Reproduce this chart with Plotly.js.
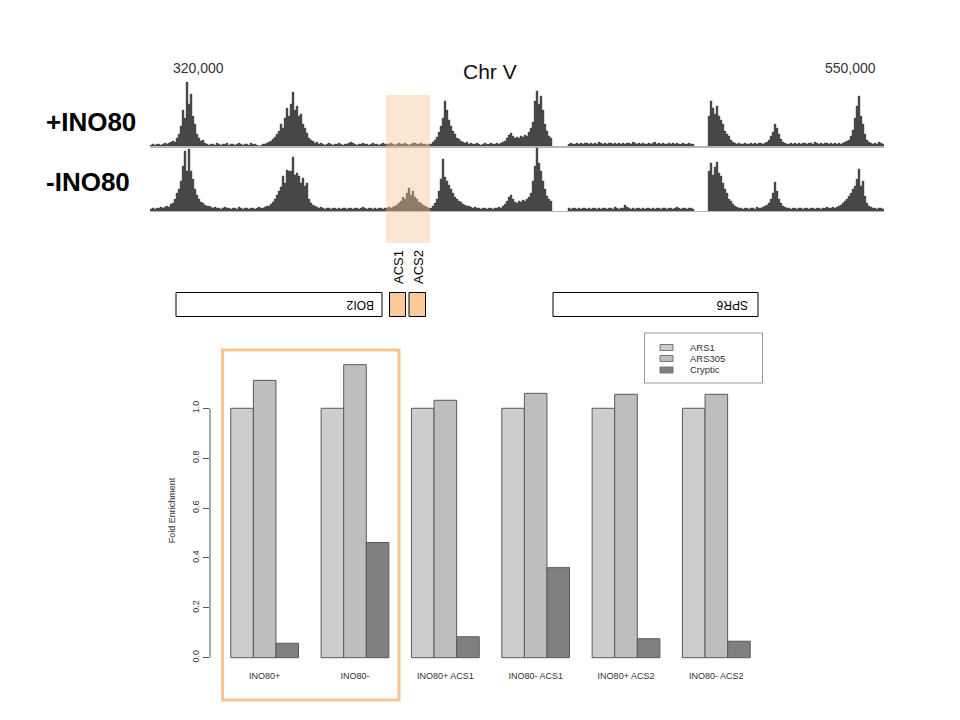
<!DOCTYPE html>
<html><head><meta charset="utf-8">
<script src="https://cdn.plot.ly/plotly-3.0.1.min.js"></script>
<style>html,body{margin:0;padding:0;background:#fff}#chart{width:960px;height:720px}</style>
</head><body><div id="chart"></div>
<script>
// ---- Genome track data (ChIP signal, arbitrary units, one value per 705 bp bin; null = no data) ----
const TRACK_START = 303000;   // bp, left edge of first bin
const BIN_SIZE = 705;         // bp per bin
const plusINO80 = [
  1,2,1,2,2,1,2,3,2,3,
  4,5,4,8,12,20,36,28,64,42,
  52,30,22,12,8,5,6,3,2,1,
  2,2,1,3,2,1,2,2,3,1,
  2,2,1,2,3,2,1,2,2,1,
  3,2,2,1,0,0.5,2,2,3,4,
  5,7,9,12,15,22,18,28,38,30,
  42,54,36,40,30,32,22,18,13,8,
  6,5,3,4,2,3,2,1,2,3,
  2,1,2,2,3,2,1,2,2,3,
  4,3,2,1,2,2,3,2,2,1,
  2,3,2,2,1,2,3,2,2,2,
  3,2,1,2,3,2,2,3,2,1,
  2,3,3,2,2,3,2,2,1,2,
  2,4,6,9,14,20,28,45,36,26,
  20,15,12,8,7,5,4,3,4,2,
  3,2,2,3,2,1,2,3,2,2,
  3,2,2,3,2,3,4,5,8,11,
  13,10,8,9,8,10,9,11,10,14,
  18,24,45,55,42,50,36,22,15,10,
  8,null,null,null,null,null,null,null,null,2,
  3,2,2,3,2,3,2,3,3,2,
  3,2,3,2,4,3,2,3,2,3,
  3,2,3,2,3,2,3,2,3,3,
  2,4,3,2,3,2,3,2,2,3,
  2,3,4,2,3,2,3,2,2,3,
  2,3,2,3,2,2,3,2,2,3,
  2,2,null,null,null,null,null,null,null,30,
  45,38,32,40,30,26,22,15,12,10,
  6,4,3,2,3,2,2,3,2,2,
  3,2,3,2,3,3,2,3,4,6,
  10,14,22,18,12,7,4,3,2,2,
  3,2,3,2,3,2,3,3,2,3,
  3,2,4,3,2,3,2,3,3,2,
  3,2,3,2,3,2,3,4,5,6,
  10,16,28,40,50,30,22,12,6,4,
  3,2,3,2,4,3,2
];
const minusINO80 = [
  2,3,2,3,3,4,3,4,5,4,
  7,8,12,18,22,30,45,60,40,62,
  40,32,22,16,12,9,8,6,5,5,
  4,3,4,3,3,2,3,4,3,3,
  2,3,3,2,4,3,2,3,3,2,
  3,3,2,3,4,3,3,4,5,5,
  7,9,12,16,20,24,35,28,41,40,
  40,54,36,38,35,28,33,25,28,12,
  8,6,5,4,3,4,3,2,3,3,
  2,3,3,2,3,2,3,3,2,3,
  3,2,3,3,2,3,4,3,2,3,
  3,2,3,2,3,3,2,3,3,4,
  3,4,5,6,8,10,14,12,18,23,
  16,20,14,12,9,8,6,5,4,3,
  3,5,8,12,20,32,52,34,30,26,
  22,18,14,12,10,9,7,6,5,5,
  4,3,4,3,3,2,3,3,2,3,
  3,2,3,3,4,3,5,7,10,14,
  16,12,9,8,10,9,11,10,12,14,
  18,30,45,63,48,40,30,22,15,12,
  10,null,null,null,null,null,null,null,null,3,
  2,3,3,2,3,2,3,3,2,3,
  2,3,3,2,3,2,3,3,2,3,
  3,2,4,3,2,3,3,6,4,3,
  2,3,2,3,3,2,3,2,3,3,
  2,3,2,3,3,2,3,3,2,3,
  3,2,3,4,3,2,3,3,2,3,
  3,2,null,null,null,null,null,null,null,40,
  48,36,44,49,38,35,28,22,18,12,
  10,7,5,4,3,3,2,3,3,2,
  3,3,2,4,3,3,4,5,6,8,
  12,18,29,20,12,8,5,4,3,3,
  2,3,3,2,3,3,2,3,3,2,
  3,3,2,3,3,2,3,3,4,3,
  3,4,3,4,5,6,8,10,12,15,
  18,22,25,32,42,25,30,15,8,5,
  4,3,3,2,3,3,2
];
const coordLabels = [320000, 550000];
const coordText = ['320,000', '550,000'];
const trackNames = ['+INO80', '-INO80'];
const geneNames = ['BOI2', 'SPR6'];
const acsNames = ['ACS1', 'ACS2'];

// ---- Bar chart data ----
const groups = ['INO80+', 'INO80-', 'INO80+ ACS1', 'INO80- ACS1', 'INO80+ ACS2', 'INO80- ACS2'];
const seriesNames = ['ARS1', 'ARS305', 'Cryptic'];
const ars1 = [1.0, 1.0, 1.0, 1.0, 1.0, 1.0];
const ars305 = [1.112, 1.175, 1.032, 1.060, 1.056, 1.056];
const cryptic = [0.058, 0.462, 0.084, 0.361, 0.076, 0.066];
const yTicks = [0, 0.2, 0.4, 0.6, 0.8, 1.0];
const yTickText = ['0.0', '0.2', '0.4', '0.6', '0.8', '1.0'];

// ---- layout helpers ----
const W = 960, H = 720;
const fx = v => v / W;
const fy = v => 1 - v / H;
const FONT = 'Liberation Sans, Arial, Helvetica, sans-serif';
const binCenters = plusINO80.map((_, i) => TRACK_START + (i + 0.5) * BIN_SIZE);
const trackEnd = TRACK_START + plusINO80.length * BIN_SIZE;

const trackStyle = {
  type: 'bar', width: BIN_SIZE,
  marker: {color: '#474747', line: {color: '#474747', width: 0.4}},
  hoverinfo: 'skip', showlegend: false
};
const traces = [
  Object.assign({}, trackStyle, {x: binCenters, y: plusINO80, xaxis: 'x', yaxis: 'y'}),
  Object.assign({}, trackStyle, {x: binCenters, y: minusINO80, xaxis: 'x2', yaxis: 'y2'}),
];
const barColors = ['#cdcdcd', '#bebebe', '#7f7f7f'];
[ars1, ars305, cryptic].forEach((vals, k) => {
  traces.push({
    type: 'bar', x: groups, y: vals, name: seriesNames[k],
    xaxis: 'x3', yaxis: 'y3', showlegend: false,
    marker: {color: barColors[k], line: {color: '#5a5a5a', width: 1}},
    hoverinfo: 'skip'
  });
});

const trackX = {
  domain: [fx(150), fx(884)], range: [TRACK_START, trackEnd],
  showline: true, linecolor: '#b5b5b5', showticklabels: false, ticks: '',
  showgrid: false, zeroline: false, fixedrange: true
};
const trackY = {range: [0, 65], visible: false, fixedrange: true};

const shapes = [
  // highlight over ACS region
  {type: 'rect', xref: 'paper', yref: 'paper', x0: fx(386), x1: fx(430), y0: fy(243), y1: fy(95),
   fillcolor: 'rgba(246,196,150,0.42)', line: {width: 0}, layer: 'above'},
  // gene boxes
  {type: 'rect', xref: 'paper', yref: 'paper', x0: fx(176), x1: fx(382), y0: fy(316.5), y1: fy(292.5),
   fillcolor: '#ffffff', line: {color: '#000', width: 1}},
  {type: 'rect', xref: 'paper', yref: 'paper', x0: fx(553), x1: fx(758), y0: fy(316.5), y1: fy(292.5),
   fillcolor: '#ffffff', line: {color: '#000', width: 1}},
  {type: 'rect', xref: 'paper', yref: 'paper', x0: fx(389.5), x1: fx(405.5), y0: fy(316.5), y1: fy(292.5),
   fillcolor: '#f9c99a', line: {color: '#000', width: 1}},
  {type: 'rect', xref: 'paper', yref: 'paper', x0: fx(409), x1: fx(425.5), y0: fy(316.5), y1: fy(292.5),
   fillcolor: '#f9c99a', line: {color: '#000', width: 1}},
  // y axis line (R style, spans the ticks only)
  {type: 'line', xref: 'x3 domain', yref: 'y3', x0: 0, x1: 0, y0: 0, y1: 1,
   line: {color: '#555', width: 1}},
  // legend box
  {type: 'rect', xref: 'paper', yref: 'paper', x0: fx(644.5), x1: fx(762.5), y0: fy(383), y1: fy(333),
   fillcolor: '#fff', line: {color: '#999', width: 1}},
  // orange frame around first two groups
  {type: 'rect', xref: 'paper', yref: 'paper', x0: fx(222.5), x1: fx(399), y0: fy(700), y1: fy(350),
   fillcolor: 'rgba(0,0,0,0)', line: {color: '#f6c594', width: 3}, layer: 'above'},
];
// legend swatches + labels
const legendRows = [347.5, 358.5, 370];
seriesNames.forEach((nm, k) => {
  shapes.push({type: 'rect', xref: 'paper', yref: 'paper',
    x0: fx(660), x1: fx(673), y0: fy(legendRows[k] + 3), y1: fy(legendRows[k] - 3),
    fillcolor: barColors[k], line: {color: '#777', width: 1}});
});

const annotations = [
  {xref: 'paper', yref: 'paper', x: fx(490), y: fy(72), xanchor: 'center', yanchor: 'middle',
   text: 'Chr V', showarrow: false, font: {family: FONT, size: 21, color: '#111'}},
  {xref: 'paper', yref: 'paper', x: fx(44), y: fy(122), xanchor: 'left', yanchor: 'middle',
   text: '<b>' + trackNames[0] + '</b>', showarrow: false, font: {family: FONT, size: 26, color: '#000'}},
  {xref: 'paper', yref: 'paper', x: fx(44), y: fy(182), xanchor: 'left', yanchor: 'middle',
   text: '<b>' + trackNames[1] + '</b>', showarrow: false, font: {family: FONT, size: 26, color: '#000'}},
  {xref: 'paper', yref: 'paper', x: fx(398), y: fy(267), xanchor: 'center', yanchor: 'middle',
   text: acsNames[0], textangle: -90, showarrow: false, font: {family: FONT, size: 13, color: '#000'}},
  {xref: 'paper', yref: 'paper', x: fx(418), y: fy(267), xanchor: 'center', yanchor: 'middle',
   text: acsNames[1], textangle: -90, showarrow: false, font: {family: FONT, size: 13, color: '#000'}},
  {xref: 'paper', yref: 'paper', x: fx(360), y: fy(305), xanchor: 'center', yanchor: 'middle',
   text: geneNames[0], textangle: 180, showarrow: false, font: {family: FONT, size: 12, color: '#000'}},
  {xref: 'paper', yref: 'paper', x: fx(732), y: fy(305), xanchor: 'center', yanchor: 'middle',
   text: geneNames[1], textangle: 180, showarrow: false, font: {family: FONT, size: 12, color: '#000'}},
];
coordLabels.forEach((c, k) => annotations.push({
  xref: 'x', yref: 'paper', x: c, y: fy(68), xanchor: 'center', yanchor: 'middle',
  text: coordText[k], showarrow: false, font: {family: FONT, size: 14, color: '#333'}
}));
seriesNames.forEach((nm, k) => annotations.push({
  xref: 'paper', yref: 'paper', x: fx(688), y: fy(legendRows[k]), xanchor: 'left', yanchor: 'middle',
  text: nm, showarrow: false, font: {family: FONT, size: 9.5, color: '#333'}
}));

const layout = {
  width: W, height: H, margin: {l: 0, r: 0, t: 0, b: 0},
  paper_bgcolor: '#fff', plot_bgcolor: 'rgba(0,0,0,0)',
  font: {family: FONT, color: '#333'}, showlegend: false,
  barmode: 'group', bargap: 0.25, bargroupgap: 0,
  xaxis: Object.assign({}, trackX, {anchor: 'y', linewidth: 2}),
  yaxis: Object.assign({}, trackY, {domain: [fy(146), fy(81)], anchor: 'x'}),
  xaxis2: Object.assign({}, trackX, {anchor: 'y2', linewidth: 1}),
  yaxis2: Object.assign({}, trackY, {domain: [fy(211), fy(146)], anchor: 'x2'}),
  xaxis3: {
    domain: [fx(210), fx(771)], anchor: 'y3', type: 'category', range: [-0.605, 5.605],
    showline: false, ticks: '', showgrid: false, zeroline: false,
    tickfont: {family: FONT, size: 9, color: '#333'}, fixedrange: true
  },
  yaxis3: {
    domain: [fy(669), fy(352)], anchor: 'x3', range: [-0.0453, 1.2257],
    tickvals: yTicks, ticktext: yTickText, ticks: 'outside', ticklen: 6, tickcolor: '#555',
    tickangle: -90, showgrid: false, zeroline: false, showline: false,
    tickfont: {family: FONT, size: 9, color: '#333'},
    title: {text: 'Fold Enrichment', font: {family: FONT, size: 9, color: '#333'}, standoff: 14},
    fixedrange: true
  },
  shapes: shapes, annotations: annotations
};

Plotly.newPlot('chart', traces, layout, {staticPlot: true, displayModeBar: false});
</script>
</body></html>
